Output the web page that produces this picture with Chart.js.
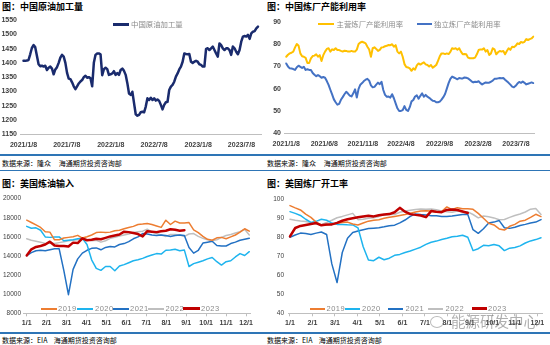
<!DOCTYPE html>
<html><head><meta charset="utf-8">
<script src="https://cdn.jsdelivr.net/npm/chart.js@4.4.0/dist/chart.umd.min.js"></script>
<style>
body{margin:0;background:#fff;}
#root{position:relative;width:550px;height:345px;overflow:hidden;font-family:"Noto Sans CJK SC",sans-serif;}
.t{position:absolute;font-weight:bold;font-size:9px;color:#000;white-space:nowrap;line-height:11px;}
.s{position:absolute;font-size:7px;color:#000;white-space:nowrap;line-height:9px;}
.hl{position:absolute;height:2px;background:#2E75B6;}
canvas{position:absolute;}
.lg{position:absolute;font-size:7.4px;color:#8a8a8a;white-space:nowrap;line-height:9px;}
.lg2{position:absolute;font-family:"Liberation Sans",Arial,sans-serif;font-size:7.5px;color:#8a8a8a;white-space:nowrap;line-height:9px;letter-spacing:0.5px;}
.sw{position:absolute;height:2px;}
.wm{position:absolute;font-size:14.5px;color:rgba(110,110,110,0.55);white-space:nowrap;line-height:16px;}
</style></head><body><div id="root">
<div class="t" style="left:2px;top:1px">图：中国原油加工量</div>
<div class="t" style="left:267px;top:1px">图：中国炼厂产能利用率</div>
<canvas id="c1"></canvas><canvas id="c2"></canvas>
<div class="hl" style="left:0;top:153.5px;width:550px"></div>
<div class="s" style="left:2px;top:158.5px">数据来源：隆众&nbsp;&nbsp;&nbsp;&nbsp;&nbsp;海通期货投资咨询部</div>
<div class="s" style="left:267px;top:158.5px">数据来源：隆众&nbsp;&nbsp;&nbsp;&nbsp;&nbsp;海通期货投资咨询部</div>
<div class="hl" style="left:0;top:170px;width:550px;height:1px"></div>
<div class="t" style="left:2px;top:178px">图：美国炼油输入</div>
<div class="t" style="left:267px;top:178px">图：美国炼厂开工率</div>
<canvas id="c3"></canvas><canvas id="c4"></canvas>
<div class="hl" style="left:0;top:331.5px;width:550px"></div>
<div class="s" style="left:2px;top:335.5px">数据来源：EIA&nbsp;&nbsp;&nbsp;&nbsp;海通期货投资咨询部</div>
<div class="s" style="left:267px;top:335.5px">数据来源：EIA&nbsp;&nbsp;&nbsp;&nbsp;海通期货投资咨询部</div>

<div class="sw" style="left:112.5px;top:23px;width:16px;height:3px;background:#1A2B6D"></div>
<div class="lg" style="left:131px;top:19px">中国原油加工量</div>
<div class="sw" style="left:318px;top:22.5px;width:16px;height:2px;background:#FFC000"></div>
<div class="lg" style="left:336.5px;top:19px">主营炼厂产能利用率</div>
<div class="sw" style="left:416.5px;top:22.5px;width:15px;height:2px;background:#4472C4"></div>
<div class="lg" style="left:434px;top:19px">独立炼厂产能利用率</div>

<div class="sw" style="left:40.5px;top:307.5px;width:16px;background:#ED7D31"></div>
<div class="lg2" style="left:58px;top:303.5px">2019</div>
<div class="sw" style="left:76.5px;top:307.5px;width:16px;background:#1EB4EE"></div>
<div class="lg2" style="left:95px;top:303.5px">2020</div>
<div class="sw" style="left:112.5px;top:307.5px;width:16px;background:#2371C3"></div>
<div class="lg2" style="left:130px;top:303.5px">2021</div>
<div class="sw" style="left:148px;top:307.5px;width:16px;background:#BFBFBF"></div>
<div class="lg2" style="left:165.5px;top:303.5px">2022</div>
<div class="sw" style="left:182.5px;top:307px;width:17px;height:3px;background:#C00000"></div>
<div class="lg2" style="left:201px;top:303.5px">2023</div>

<div class="sw" style="left:310px;top:307.5px;width:15px;background:#ED7D31"></div>
<div class="lg2" style="left:326.5px;top:303.5px">2019</div>
<div class="sw" style="left:345px;top:307.5px;width:15px;background:#1EB4EE"></div>
<div class="lg2" style="left:362px;top:303.5px">2020</div>
<div class="sw" style="left:388px;top:307.5px;width:15px;background:#2371C3"></div>
<div class="lg2" style="left:405.5px;top:303.5px">2021</div>
<div class="sw" style="left:428px;top:307.5px;width:15px;background:#BFBFBF"></div>
<div class="lg2" style="left:445.5px;top:303.5px">2022</div>
<div class="sw" style="left:471.5px;top:307px;width:15px;height:3px;background:#C00000"></div>
<div class="lg2" style="left:488px;top:303.5px">2023</div>

<div style="position:absolute;left:430px;top:316px;width:12px;height:10px;border:1.5px solid rgba(120,120,120,0.5);border-radius:50%"></div>
<div class="wm" style="left:451px;top:313px">能源研发中心</div>
</div>
<script>
// ---------- data ----------
const crudeTicks = ['2021/1/8','2021/7/8','2022/1/8','2022/7/8','2023/1/8','2023/7/8'];
const utilTicks = ['2021/1/8','2021/6/8','2021/11/8','2022/4/8','2022/9/8','2023/2/8','2023/7/8'];
const monthTicks = ['1/1','2/1','3/1','4/1','5/1','6/1','7/1','8/1','9/1','10/1','11/1','12/1'];
const seriesYears = ['2019','2020','2021','2022','2023'];

// China crude runs, weekly from 2021/1/8 (10k t)
const crudeRun = [1407,1407,1408,1410,1430,1452,1462,1455,1425,1395,
 1388,1390,1387,1390,1375,1383,1387,1380,1360,1377,
 1385,1400,1418,1428,1422,1400,1365,1345,1343,1332,
 1318,1308,1318,1328,1335,1340,1350,1355,1348,1350,
 1346,1318,1400,1428,1433,1433,1430,1357,1378,1383,
 1378,1358,1360,1363,1371,1358,1364,1358,1375,1380,
 1372,1358,1329,1293,1288,1299,1259,1220,1215,1218,
 1227,1229,1227,1247,1276,1270,1278,1270,1276,1268,
 1272,1267,1253,1237,1253,1262,1264,1305,1317,1323,
 1334,1352,1363,1377,1387,1404,1433,1431,1430,1431,
 1404,1400,1404,1407,1404,1395,1393,1387,1387,1449,
 1451,1445,1451,1457,1445,1433,1422,1468,1462,1451,
 1445,1451,1451,1445,1428,1457,1451,1439,1430,1445,
 1474,1492,1494,1492,1498,1484,1503,1509,1511,1521,
 1527];

// main refinery utilization (%)
const mainUtil = [74.3,75.2,75.8,76.1,76.6,78.5,80.0,79.2,75.8,74.5,
 74.3,73.8,71.5,71.5,73.6,74.6,74.8,75.4,74.3,75.0,
 72.4,75.0,76.6,77.8,78.1,76.6,77.6,77.3,78.1,77.3,
 77.3,76.9,76.6,77.0,76.9,76.6,76.6,76.9,76.6,76.6,
 77.5,80.0,80.7,81.0,80.7,80.3,78.8,77.5,74.3,78.1,
 78.5,77.8,76.9,77.4,78.5,78.6,79.0,79.2,79.6,79.5,
 79.9,78.8,79.5,76.6,75.8,76.6,74.3,71.0,69.7,69.5,
 69.1,68.0,69.1,68.5,70.4,71.3,70.8,71.3,71.8,70.9,
 70.6,69.9,70.6,69.4,70.0,70.6,72.5,74.5,75.8,75.8,
 75.5,75.8,75.5,76.5,78.1,77.8,78.1,77.4,78.1,76.6,
 75.4,75.5,75.4,73.9,73.6,73.6,73.6,73.9,75.4,77.3,
 77.6,77.5,78.1,76.6,77.3,75.1,75.8,78.1,77.6,75.4,
 76.3,76.9,76.6,76.9,75.4,76.9,78.1,77.4,78.8,78.6,
 79.2,80.3,80.0,80.9,80.6,81.0,82.2,81.8,82.2,82.5,
 83.3];

// independent refinery utilization (%)
const indepUtil = [71.3,69.9,69.1,69.0,68.8,68.4,69.6,70.3,69.8,69.3,
 69.8,68.4,68.7,68.4,68.4,67.0,66.2,65.6,66.1,65.6,
 64.9,65.2,64.9,63.4,61.7,59.5,57.4,55.2,53.9,52.8,
 53.2,55.0,56.2,57.5,58.6,57.8,56.9,56.5,57.9,59.7,
 56.0,59.9,61.8,62.5,63.4,64.0,64.4,63.6,61.5,60.6,
 60.8,61.8,62.7,62.0,63.1,59.4,57.2,56.4,56.5,56.0,
 57.5,55.7,53.4,51.2,50.0,50.0,50.4,52.2,50.5,50.0,
 51.7,54.3,54.9,56.5,57.0,55.5,56.8,57.9,56.4,57.2,
 56.4,55.9,55.2,54.6,54.5,53.9,53.9,54.2,55.1,56.2,
 57.6,60.0,62.5,64.4,65.4,65.0,64.6,64.2,64.8,64.6,
 64.6,65.0,64.9,64.6,64.0,63.3,62.8,63.1,63.0,63.3,
 62.5,61.9,62.4,62.8,62.7,62.7,63.1,63.6,64.4,64.4,
 64.6,64.8,64.7,64.8,64.0,63.3,62.6,61.8,60.9,60.6,
 61.3,62.3,63.0,62.6,63.2,62.6,61.9,62.2,62.5,62.8,
 62.5];

// US refinery input (k b/d), weekly
const input2019 = [17750,17510,17250,16990,16540,16500,15700,15700,15880,15950,
 16020,16160,15880,16020,16200,16450,16500,16450,16500,16650,
 16700,16850,16980,17100,17300,17340,17400,17300,17150,17000,
 17750,17300,17650,17450,17450,17500,16740,16450,16050,15750,
 15650,15900,15950,15800,16000,16200,16500,16850,16600];
const input2020 = [17100,16900,16950,16700,16000,15950,16000,16000,15600,15650,
 15700,15800,15850,15200,13600,12700,12500,12900,12900,12450,
 12950,13100,13300,13500,13600,13750,13950,14100,14250,14200,
 14600,14620,14700,14550,14620,12900,13200,13350,13500,13700,
 13850,13400,13050,13400,13500,13900,14250,14050,14450];
const input2021 = [14050,14350,14550,14600,14550,14650,14750,14750,12500,9950,
 12600,13700,14300,14600,14800,14850,14650,14900,15000,14950,
 15200,15300,15500,15800,16000,16350,16300,16200,16150,16200,
 16150,16050,16150,16200,16150,14900,14300,14600,15350,15450,
 15550,15100,15050,15050,15300,15450,15650,15750,15850];
const input2022 = [15800,15650,15550,15450,15300,15350,15300,15400,15500,15600,
 15650,15700,15750,15700,15600,15650,15450,15600,15850,15950,
 16100,16200,16300,16450,16550,16600,16800,16500,16350,16200,
 16050,16250,16250,16200,16050,16300,16350,16050,15850,15700,
 15600,15700,15950,16150,16250,16400,16550,16800,16200];
const input2023 = [14050,14700,14950,15050,15200,15500,15100,15050,15050,15000,
 15400,15350,15850,15650,15700,15800,15750,15900,16050,16150,
 16250,16550,16500,16400,16300,16050,16600,16550,16500,16600,
 16650,16800,16750,16650,16700];

// US refinery utilization (%)
const util2019 = [96.7,95.5,94.4,92.2,90.5,88.0,86.5,86.5,87.0,87.4,
 87.8,88.0,87.0,86.5,87.5,88.5,89.0,89.2,90.0,90.5,
 91.0,91.5,92.0,92.7,93.3,93.8,94.0,93.8,93.2,93.5,
 96.0,94.6,95.6,95.0,95.0,94.7,92.6,90.0,87.4,86.5,
 84.4,83.8,85.8,86.8,88.5,89.0,90.5,92.1,90.9];
const util2020 = [93.5,92.6,91.5,89.5,87.8,88.4,89.5,89.0,87.5,86.8,
 86.8,86.6,86.5,85.0,75.0,68.0,67.7,69.5,68.2,69.0,
 70.5,71.0,72.0,72.8,73.8,74.8,76.3,77.4,78.0,78.8,
 79.5,80.3,80.6,81.1,80.0,73.0,74.0,75.8,75.6,76.2,
 75.5,73.0,74.3,74.6,75.5,77.0,78.1,78.8,79.8];
const util2021 = [80.0,81.2,82.2,82.0,81.5,82.2,82.8,81.5,66.0,56.2,
 72.0,79.5,82.5,83.3,84.0,84.6,84.8,85.0,85.5,86.1,
 86.4,87.6,89.1,91.0,92.3,92.0,91.8,91.4,91.3,90.9,
 90.9,91.2,91.6,92.0,92.0,84.0,82.1,84.5,87.5,88.0,
 88.8,85.0,84.7,85.3,86.2,86.8,87.5,88.0,89.3];
const util2022 = [89.5,89.0,88.6,88.3,87.7,87.0,86.6,87.8,89.0,90.3,
 91.0,91.8,92.6,89.3,89.5,90.0,90.3,91.0,91.8,92.0,
 92.0,93.2,93.8,94.2,94.6,94.9,94.8,94.9,94.5,93.8,
 93.4,93.2,93.8,93.3,93.4,92.0,90.2,91.2,90.8,90.2,
 89.2,89.4,90.5,91.5,92.3,93.3,94.8,95.2,92.0];
const util2023 = [80.5,84.9,86.0,86.5,87.0,87.5,86.3,86.7,86.8,87.6,
 88.7,89.5,90.0,90.5,91.0,91.4,91.0,91.6,92.0,92.2,
 93.2,95.5,93.5,92.2,91.8,91.5,90.6,93.8,93.4,93.2,
 94.4,94.6,94.4,93.6,92.8];

// ---------- helpers ----------
const day0 = Date.UTC(2021,0,8);
const weekOf = s => { const p = s.split('/').map(Number); return (Date.UTC(p[0],p[1]-1,p[2]) - day0) / 864e5 / 7; };
const pts = arr => arr.map((v,i) => ({x:i, y:v}));
const numFont = (size, weight) => ({family:"'Liberation Sans', Arial, sans-serif", size, weight});

function build(id, box, area, xs, ys, datasets) {
  const cv = document.getElementById(id);
  cv.width = box.w; cv.height = box.h;
  cv.style.left = box.l + 'px'; cv.style.top = box.t + 'px';
  return new Chart(cv, {
    type: 'line',
    data: {datasets},
    options: {
      responsive:false, animation:false, devicePixelRatio:1, events:[],
      layout:{padding:{top: area.t - box.t, right: box.l + box.w - area.r, left:0, bottom:0}},
      plugins:{legend:{display:false}, tooltip:{enabled:false}},
      elements:{point:{radius:0}, line:{tension:0, borderJoinStyle:'round', borderCapStyle:'round'}},
      scales:{
        x:{type:'linear', min:xs.min, max:xs.max,
          afterFit: s => { s.height = box.t + box.h - area.b; },
          afterBuildTicks: s => { s.ticks = xs.pos.map(v => ({value:v})); },
          grid:{display:xs.marks, drawOnChartArea:false, drawTicks:xs.marks, tickLength:3, color:'#bfbfbf'},
          border:{display:true, color:'#bfbfbf', width:1},
          ticks:{autoSkip:false, maxRotation:0, minRotation:0, padding:xs.pad, color:'#404040', font:xs.font,
                 callback:(v,i) => xs.labels[i]}},
        y:{type:'linear', min:ys.min, max:ys.max,
          afterFit: s => { s.width = area.l - box.l; },
          grid:{display:false, drawTicks:false}, border:{display:false},
          ticks:{stepSize:ys.step, padding:ys.pad, color:'#404040', font:ys.font, callback:v => String(v)}}
      }
    }
  });
}

// chart 1: China crude runs
build('c1', {l:0,t:10,w:268,h:144}, {l:20,t:20,r:261,b:134.3},
  {min:-2.09, max:141.8, pos:crudeTicks.map(weekOf), labels:crudeTicks, marks:false, pad:6.5, font:numFont(7,'bold')},
  {min:1150, max:1550, step:50, pad:3, font:numFont(7,'bold')},
  [{label:'中国原油加工量', data:pts(crudeRun), borderColor:'#1A2B6D', borderWidth:2.5}]);

// chart 2: China refinery utilization
build('c2', {l:266,t:10,w:284,h:144}, {l:283,t:21.7,r:534.5,b:133.3},
  {min:-0.73, max:140.67, pos:utilTicks.map(weekOf), labels:utilTicks, marks:false, pad:6.5, font:numFont(7,'bold')},
  {min:40, max:90, step:10, pad:4, font:numFont(7,'bold')},
  [{label:'主营炼厂产能利用率', data:pts(mainUtil), borderColor:'#FFC000', borderWidth:2},
   {label:'独立炼厂产能利用率', data:pts(indepUtil), borderColor:'#4472C4', borderWidth:2}]);

const monthPos = monthTicks.map((m,i) => i * 4.3);
const yearColors = ['#ED7D31','#1EB4EE','#2371C3','#BFBFBF','#C00000'];

// chart 3: US refinery input
build('c3', {l:0,t:190,w:270,h:142}, {l:23,t:198.7,r:250.5,b:313.3},
  {min:-0.8, max:48.26, pos:monthPos, labels:monthTicks, marks:true, pad:2.5, font:numFont(7,'bold')},
  {min:8000, max:20000, step:2000, pad:2, font:numFont(6.5,'normal')},
  [input2019,input2020,input2021,input2022,input2023].map((d,k) => ({
    label:seriesYears[k], data:pts(d), borderColor:yearColors[k], borderWidth:k===4?2.5:1.5, order:k===4?0:1}))); 

// chart 4: US refinery utilization
build('c4', {l:266,t:190,w:284,h:142}, {l:288,t:199.3,r:542,b:313.3},
  {min:-0.38, max:48.19, pos:monthPos, labels:monthTicks, marks:true, pad:2.5, font:numFont(7,'bold')},
  {min:40, max:100, step:10, pad:4, font:numFont(6.5,'normal')},
  [util2019,util2020,util2021,util2022,util2023].map((d,k) => ({
    label:seriesYears[k], data:pts(d), borderColor:yearColors[k], borderWidth:k===4?2.5:1.5, order:k===4?0:1})));
</script>
</body></html>
